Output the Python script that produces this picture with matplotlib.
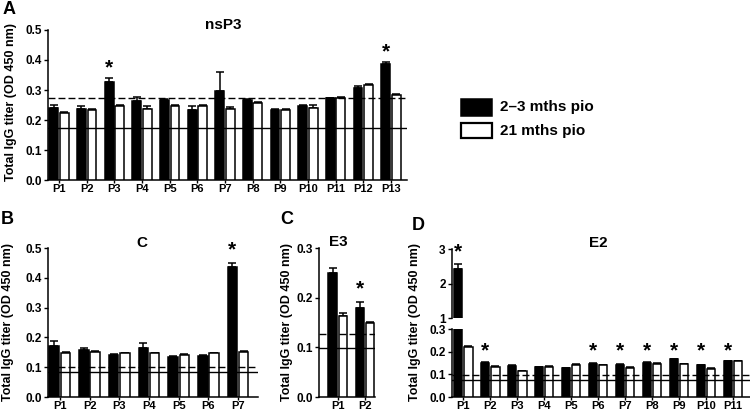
import numpy as np
import matplotlib
matplotlib.use('Agg')
import matplotlib.pyplot as plt
from matplotlib.patches import Rectangle

plt.rcParams['font.family'] = ['Liberation Sans', 'DejaVu Sans']
plt.rcParams['font.weight'] = 'bold'

# panel A - nsP3
a_labels = ['P%d' % i for i in range(1, 14)]
a_early = [0.239, 0.236, 0.328, 0.263, 0.267, 0.232, 0.298, 0.267, 0.233, 0.247, 0.272, 0.306, 0.386]
a_early_err = [0.011, 0.011, 0.013, 0.014, 0.004, 0.016, 0.061, 0.004, 0.002, 0.003, 0.0, 0.008, 0.008]
a_late = [0.222, 0.233, 0.247, 0.236, 0.245, 0.248, 0.237, 0.257, 0.233, 0.239, 0.274, 0.317, 0.283]
a_late_err = [0.003, 0.002, 0.002, 0.009, 0.005, 0.002, 0.005, 0.003, 0.003, 0.012, 0.002, 0.003, 0.002]
a_cut = [0.273, 0.172]          # dashed, solid
a_stars = {2: 0.397, 12: 0.45}

# panel B - C
b_labels = ['P%d' % i for i in range(1, 8)]
b_early = [0.170, 0.157, 0.141, 0.163, 0.135, 0.138, 0.437]
b_early_err = [0.018, 0.008, 0.002, 0.019, 0.001, 0.002, 0.011]
b_late = [0.146, 0.152, 0.146, 0.146, 0.141, 0.146, 0.152]
b_late_err = [0.006, 0.003, 0.002, 0.002, 0.002, 0.002, 0.001]
b_cut = [0.102, 0.084]
b_stars = {6: 0.517}

# panel C - E3
c_labels = ['P1', 'P2']
c_early = [0.250, 0.179]
c_early_err = [0.009, 0.013]
c_late = [0.164, 0.150]
c_late_err = [0.005, 0.002]
c_cut = [0.126, 0.098]
c_stars = {1: 0.231}

# panel D - E2 (broken axis)
d_labels = ['P%d' % i for i in range(1, 12)]
d_early = [2.43, 0.150, 0.136, 0.131, 0.126, 0.147, 0.143, 0.150, 0.166, 0.140, 0.157]
d_early_err = [0.13, 0.004, 0.003, 0.002, 0.001, 0.001, 0.001, 0.003, 0.002, 0.002, 0.002]
d_late = [0.221, 0.133, 0.114, 0.133, 0.140, 0.139, 0.129, 0.147, 0.144, 0.124, 0.157]
d_late_err = [0.002, 0.002, 0.002, 0.003, 0.004, 0.004, 0.002, 0.004, 0.003, 0.002, 0.003]
d_cut = [0.097, 0.076]
d_stars_low = {1: 0.232, 5: 0.232, 6: 0.232, 7: 0.232, 8: 0.232, 9: 0.232, 10: 0.232}
d_stars_high = {0: 3.12}

ylab = 'Total IgG titer (OD 450 nm)'
W, H = 750, 415
LW = 1.1
OFF, BW = 0.19, 0.32
TICK_FS = 8.5
STAR_FS = 15


def box(l, t, r, b):
    return [l / W, 1 - b / H, (r - l) / W, (b - t) / H]


def ftext(x, y, s, **kw):
    fig.text(x / W, 1 - y / H, s, ha='center', va='center', fontweight='bold', **kw)


def bars(ax, early, eerr, late, lerr):
    x = np.arange(len(early))
    ax.bar(x - OFF, early, BW, color='black', edgecolor='black', linewidth=LW, zorder=3)
    ax.bar(x + OFF, late, BW, color='white', edgecolor='black', linewidth=LW, zorder=3)
    ax.errorbar(x - OFF, early, yerr=[np.zeros(len(x)), eerr], fmt='none', ecolor='black',
                elinewidth=LW, capsize=2.6, capthick=LW, zorder=2)
    ax.errorbar(x + OFF, late, yerr=[np.zeros(len(x)), lerr], fmt='none', ecolor='black',
                elinewidth=LW, capsize=2.6, capthick=LW, zorder=2)


def cutoffs(ax, cut):
    ax.axhline(cut[0], color='black', lw=1.0, ls=(0, (5, 2.2)), zorder=4)
    ax.axhline(cut[1], color='black', lw=1.0, zorder=4)


def stars(ax, st):
    for i, y in st.items():
        ax.annotate('*', (i - OFF, y), xytext=(0, -0.58 * STAR_FS), textcoords='offset points',
                    ha='center', va='baseline', fontsize=STAR_FS, fontweight='bold',
                    annotation_clip=False)


def style(ax, yticks, fmt, labels=None):
    for s in ['top', 'right']:
        ax.spines[s].set_visible(False)
    ax.spines['left'].set_linewidth(LW)
    ax.spines['bottom'].set_linewidth(LW)
    ax.set_yticks(yticks)
    ax.set_yticklabels([fmt % v for v in yticks])
    ax.tick_params(axis='y', direction='out', length=3, width=1, labelsize=TICK_FS, pad=1.5)
    ax.tick_params(axis='x', direction='out', length=2.5, width=1, labelsize=8, pad=0.5)
    if labels is not None:
        ax.set_xticks(range(len(labels)))
        ax.set_xticklabels(labels)
    for t in ax.get_xticklabels() + ax.get_yticklabels():
        t.set_fontweight('bold')


fig = plt.figure(figsize=(7.5, 4.15), dpi=100)

# A
ax = fig.add_axes(box(48, 30, 407, 180))
bars(ax, a_early, a_early_err, a_late, a_late_err)
cutoffs(ax, a_cut)
stars(ax, a_stars)
ax.set_xlim(-0.40, 12.58)
ax.set_ylim(0, 0.5)
style(ax, [0, 0.1, 0.2, 0.3, 0.4, 0.5], '%.1f', a_labels)
ftext(223, 25, 'nsP3', fontsize=11)
ftext(11, 102, ylab, rotation=90, fontsize=9)
ftext(9, 10, 'A', fontsize=13)

# B
ax = fig.add_axes(box(48, 248, 258, 397))
bars(ax, b_early, b_early_err, b_late, b_late_err)
cutoffs(ax, b_cut)
stars(ax, b_stars)
ax.set_xlim(-0.40, 6.67)
ax.set_ylim(0, 0.5)
style(ax, [0, 0.1, 0.2, 0.3, 0.4, 0.5], '%.1f', b_labels)
ftext(142, 243, 'C', fontsize=11)
ftext(8, 322, ylab, rotation=90, fontsize=9)
ftext(7, 219, 'B', fontsize=13)

# C
ax = fig.add_axes(box(319, 248, 375, 397))
bars(ax, c_early, c_early_err, c_late, c_late_err)
cutoffs(ax, c_cut)
stars(ax, c_stars)
ax.set_xlim(-0.70, 1.37)
ax.set_ylim(0, 0.3)
style(ax, [0, 0.1, 0.2, 0.3], '%.1f', c_labels)
ftext(338, 242, 'E3', fontsize=11)
ftext(287, 322, ylab, rotation=90, fontsize=9)
ftext(287, 219, 'C', fontsize=13)

# D lower
ax = fig.add_axes(box(452, 329, 750, 397))
bars(ax, d_early, d_early_err, d_late, d_late_err)
cutoffs(ax, d_cut)
stars(ax, d_stars_low)
ax.set_xlim(-0.41, 10.63)
ax.set_ylim(0, 0.3)
style(ax, [0, 0.1, 0.2, 0.3], '%.1f', d_labels)

# D upper
ax = fig.add_axes(box(452, 249, 750, 318))
bars(ax, d_early, d_early_err, d_late, d_late_err)
stars(ax, d_stars_high)
ax.set_xlim(-0.41, 10.63)
ax.set_ylim(1, 3)
style(ax, [1, 2, 3], '%d')
ax.spines['bottom'].set_visible(False)
ax.set_xticks([])
ftext(598, 243, 'E2', fontsize=11)
ftext(415, 322, ylab, rotation=90, fontsize=9)
ftext(418, 225, 'D', fontsize=13)

# legend
fig.add_artist(Rectangle((461 / W, 1 - 116 / H), 31 / W, 17 / H, transform=fig.transFigure,
                         facecolor='black', edgecolor='black', lw=LW))
fig.add_artist(Rectangle((461 / W, 1 - 138 / H), 31 / W, 15 / H, transform=fig.transFigure,
                         facecolor='white', edgecolor='black', lw=1.6))
fig.text(500 / W, 1 - 107 / H, '2\u20133 mths pio', ha='left', va='center', fontsize=11, fontweight='bold')
fig.text(500 / W, 1 - 131 / H, '21 mths pio', ha='left', va='center', fontsize=11, fontweight='bold')

fig.savefig('out.png', dpi=100)
